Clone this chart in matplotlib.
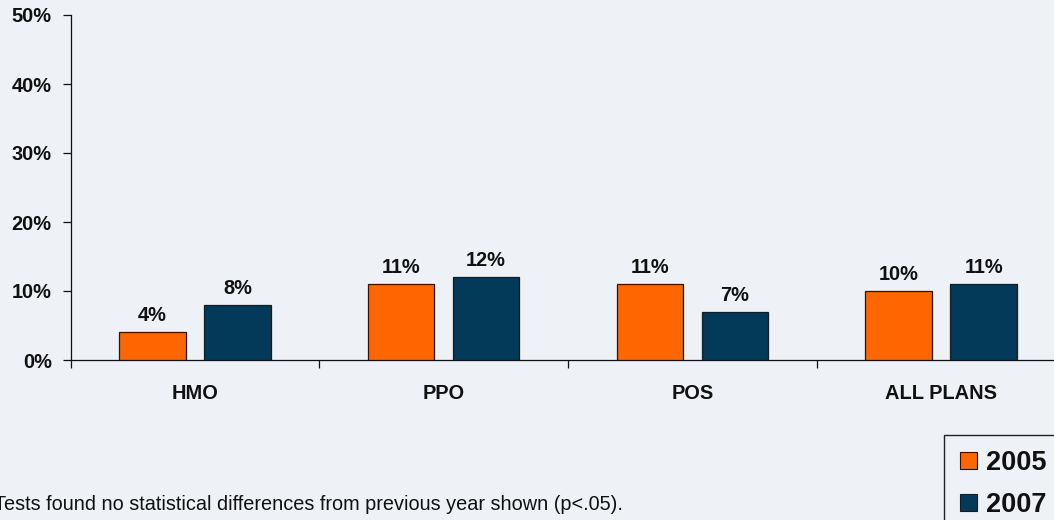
import matplotlib
matplotlib.use("Agg")
import matplotlib.pyplot as plt
from matplotlib.patches import Rectangle
from matplotlib.ticker import FixedLocator, FuncFormatter
import numpy as np

# Plan types and share of plans per year (%)
categories = ["HMO", "PPO", "POS", "ALL PLANS"]
series_years = ["2005", "2007"]
values_2005 = [4, 11, 11, 10]
values_2007 = [8, 12, 7, 11]
y_ticks = [0, 10, 20, 30, 40, 50]
footnote = "Tests found no statistical differences from previous year shown (p<.05)."

BG = "#EEF1F5"
ORANGE = "#FF6600"
NAVY = "#033A5A"
EDGE = "#1A1A1A"

plt.rcParams["font.family"] = ["Liberation Sans", "DejaVu Sans"]

W, H = 1054, 520
fig = plt.figure(figsize=(W / 100, H / 100), dpi=100, facecolor=BG)

# axes: y spine at x=70.5 px, zero line at y=360 px, 50% at y=15 px
left = 70.5 / W
right = 1065.5 / W
bottom = 1 - 360 / H
top = 1 - 15 / H
ax = fig.add_axes([left, bottom, right - left, top - bottom])
ax.set_facecolor(BG)

x = np.arange(len(categories))
bar_w = 0.267
offset = 0.171
fs = 14.4

bars05 = ax.bar(x - offset, values_2005, bar_w, color=ORANGE, edgecolor=EDGE, linewidth=0.9, zorder=3)
bars07 = ax.bar(x + offset, values_2007, bar_w, color=NAVY, edgecolor=EDGE, linewidth=0.9, zorder=3)

for bars, vals in ((bars05, values_2005), (bars07, values_2007)):
    for b, v in zip(bars, vals):
        ax.annotate(f"{v}%", (b.get_x() + b.get_width() / 2, v),
                    xytext=(0, 5), textcoords="offset points",
                    ha="center", va="bottom", fontsize=fs, fontweight="bold",
                    color="#111111")

ax.set_xlim(-0.5, len(categories) - 0.5)
ax.set_ylim(0, 50)

# y axis
ax.yaxis.set_major_locator(FixedLocator(y_ticks))
ax.yaxis.set_major_formatter(FuncFormatter(lambda v, p: f"{int(v)}%"))
ax.tick_params(axis="y", direction="out", length=5.5, width=0.9, pad=8,
               labelsize=fs, colors="#111111")
for lbl in ax.get_yticklabels():
    lbl.set_fontweight("bold")

# x axis: separator ticks between groups, labels at group centres
ax.xaxis.set_major_locator(FixedLocator(np.arange(-0.5, len(categories), 1.0)))
ax.xaxis.set_major_formatter(FuncFormatter(lambda v, p: ""))
ax.xaxis.set_minor_locator(FixedLocator(x))
ax.set_xticklabels(categories, minor=True)
ax.tick_params(axis="x", which="major", direction="out", length=5.5, width=0.9, colors="#111111")
ax.tick_params(axis="x", which="minor", length=0, pad=17, labelsize=fs, labelcolor="#111111")
for lbl in ax.get_xticklabels(minor=True):
    lbl.set_fontweight("bold")

for s in ("top", "right"):
    ax.spines[s].set_visible(False)
for s in ("left", "bottom"):
    ax.spines[s].set_color("#111111")
    ax.spines[s].set_linewidth(0.9)

# footnote
fig.text(-6 / W, 1 - 510 / H, footnote, ha="left", va="baseline",
         fontsize=14.3, color="#111111")

# legend box in the lower right corner
def fx(px):
    return px / W

def fy(py):
    return 1 - py / H

fig.add_artist(Rectangle((fx(944), fy(530)), fx(1070) - fx(944), fy(435) - fy(530),
                         transform=fig.transFigure, facecolor=BG, edgecolor="#222222",
                         linewidth=1.0))
for year, col, cy in ((series_years[0], ORANGE, 460), (series_years[1], NAVY, 502.5)):
    fig.add_artist(Rectangle((fx(960), fy(cy + 8.5)), fx(17), 17 / H,
                             transform=fig.transFigure, facecolor=col,
                             edgecolor=EDGE, linewidth=0.8))
    fig.text(fx(986), fy(cy), year, ha="left", va="center_baseline",
             fontsize=19.5, fontweight="bold", color="#111111")

fig.savefig("out.png", dpi=100, facecolor=BG)
